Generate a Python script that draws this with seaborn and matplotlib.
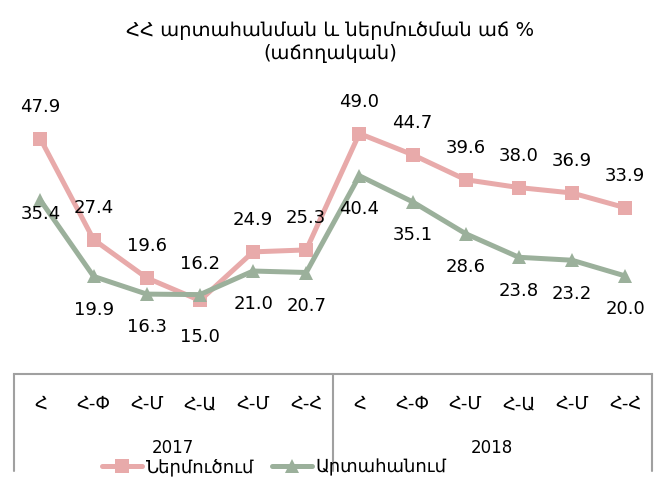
import matplotlib
matplotlib.use("Agg")
import matplotlib.pyplot as plt
import seaborn as sns
import pandas as pd

# data
months = ["Հ", "Հ-Փ", "Հ-Մ", "Հ-Ա", "Հ-Մ", "Հ-Հ"]
years = ["2017", "2018"]
imports_name = "Ներմուծում"
exports_name = "Արտահանում"
imports = [47.9, 27.4, 19.6, 15.0, 24.9, 25.3, 49.0, 44.7, 39.6, 38.0, 36.9, 33.9]
exports = [35.4, 19.9, 16.3, 16.2, 21.0, 20.7, 40.4, 35.1, 28.6, 23.8, 23.2, 20.0]

PINK = "#E8AAAA"
GREEN = "#9BB09B"

sns.set_theme(style="white")
plt.rcParams["font.family"] = ["DejaVu Sans"]
plt.rcParams["text.color"] = "black"
plt.rcParams["xtick.color"] = "black"

n = len(imports)
df = pd.DataFrame({
    "idx": list(range(n)) * 2,
    "value": imports + exports,
    "series": [imports_name] * n + [exports_name] * n,
})

fig = plt.figure(figsize=(6.61, 4.91), dpi=100)
ax = fig.add_axes([0.021, 0.238, 0.965, 0.60])

sns.lineplot(data=df, x="idx", y="value", hue="series", style="series",
             markers={imports_name: "s", exports_name: "^"}, dashes=False,
             palette={imports_name: PINK, exports_name: GREEN},
             linewidth=3.6, markersize=10, markeredgewidth=0, ax=ax)

ax.set_xlim(-0.5, n - 0.5)
ax.set_ylim(0, 60)
ax.set_xlabel("")
ax.set_ylabel("")
ax.set_yticks([])
for s in ["top", "right", "left"]:
    ax.spines[s].set_visible(False)
ax.spines["bottom"].set_color("#A0A0A0")
ax.spines["bottom"].set_linewidth(1.5)

ax.set_xticks(range(n))
ax.set_xticklabels(months * len(years), fontsize=13)
ax.tick_params(axis="x", length=0, pad=15)

# data labels: pink above, green below (with a few swaps)
for i, v in enumerate(imports):
    dy = -26 if i == 3 else 23
    ax.annotate(f"{v:.1f}", (i, v), xytext=(0, dy), textcoords="offset points",
                ha="center", va="center", fontsize=13)
for i, v in enumerate(exports):
    dy = 22 if i == 3 else (-10 if i == 0 else -24)
    ax.annotate(f"{v:.1f}", (i, v), xytext=(0, dy), textcoords="offset points",
                ha="center", va="center", fontsize=13)

# category group lines and year labels
trans = ax.get_xaxis_transform()
for xb in [-0.5, 5.5, n - 0.5]:
    ax.plot([xb, xb], [0, -0.33], transform=trans, color="#A0A0A0",
            linewidth=1.5, clip_on=False)
for k, yr in enumerate(years):
    ax.text(2.5 + 6 * k, -0.25, yr, transform=trans, ha="center", va="center",
            fontsize=12)

ax.legend_.remove()
handles, labels = ax.get_legend_handles_labels()
fig.legend(handles, labels, loc="center", bbox_to_anchor=(0.415, 0.048),
           ncol=2, frameon=False, fontsize=13, handlelength=2.2,
           columnspacing=1.0, handletextpad=0.2)

fig.text(0.5, 0.938, "ՀՀ արտահանման և ներմուծման աճ %", ha="center",
         va="center", fontsize=14)
fig.text(0.5, 0.892, "(աճողական)", ha="center", va="center", fontsize=14)

fig.savefig("out.png", dpi=100)
